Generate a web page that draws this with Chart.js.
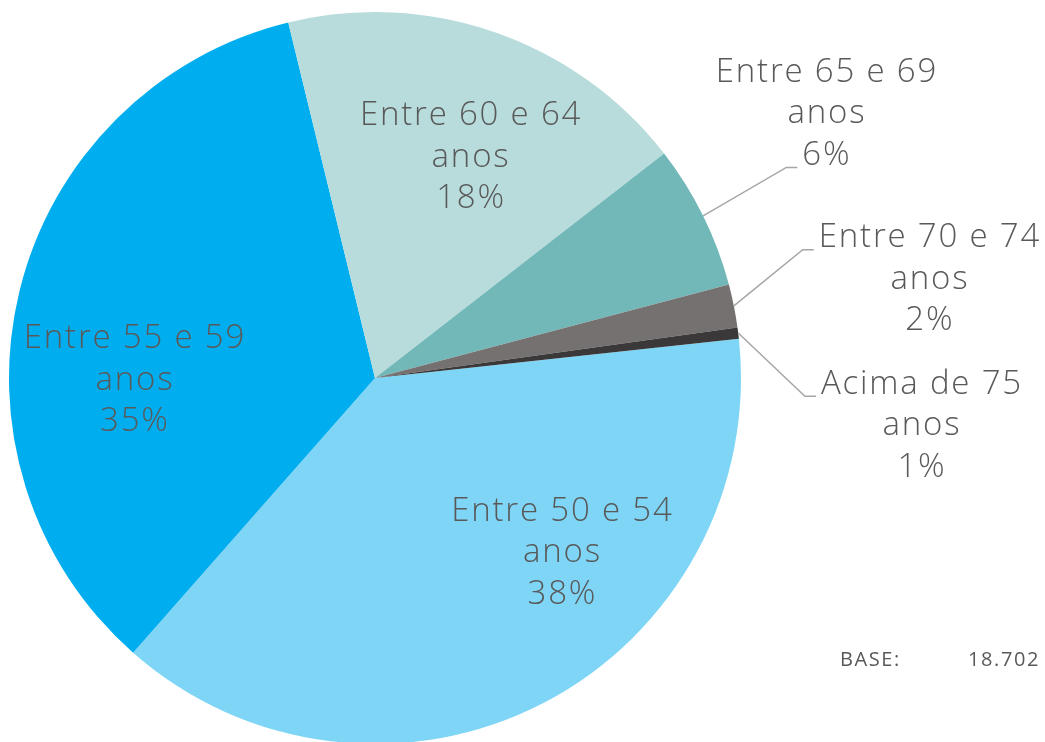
<!DOCTYPE html>
<html>
<head>
<meta charset="utf-8">
<script src="https://cdn.jsdelivr.net/npm/chart.js@4.4.1/dist/chart.umd.min.js"></script>
<style>
  html, body { margin: 0; padding: 0; background: #fff; overflow: hidden; }
  #wrap { position: relative; width: 1045px; height: 746px; }
  #base { position: absolute; left: 840px; top: 645px; font: 20px "Open Sans", sans-serif; letter-spacing: 1.6px; color: #595959; }
  #base span { position: absolute; left: 128px; white-space: nowrap; }
</style>
</head>
<body>
<div id="wrap">
  <canvas id="pie"></canvas>
  <div id="base">BASE:<span>18.702</span></div>
</div>
<script>
// age groups, clockwise from the 3 o'clock position
const categories = [
  ["Entre 50 e 54", "anos"],
  ["Entre 55 e 59", "anos"],
  ["Entre 60 e 64", "anos"],
  ["Entre 65 e 69", "anos"],
  ["Entre 70 e 74", "anos"],
  ["Acima de 75", "anos"]
];
const shares = [38.2, 34.7, 18.3, 6.4, 1.9, 0.5];
const colors = ["#7fd5f6", "#00aeef", "#b8dcdc", "#72b8b8", "#767171", "#3a3838"];

// label placement: canvas angle (deg) and distance as a fraction of the radius
const labelAngle = [43, 179.5, -66.5, -30.3, -10.1, 5.0];
const labelDist = [0.70, 0.656, 0.658, 1.43, 1.54, 1.50];
// which text line a leader line points at (-1 = no leader)
const leaderLine = [-1, -1, -1, 2, 0, 0];

const LINE_H = 41.5;
const FONT = '300 33px "Open Sans", sans-serif';

const labelPlugin = {
  id: "pieLabels",
  afterDraw(chart) {
    const ctx = chart.ctx;
    const meta = chart.getDatasetMeta(0);
    ctx.save();
    ctx.font = FONT;
    ctx.letterSpacing = "1.8px";
    ctx.fillStyle = "#595959";
    ctx.textAlign = "center";
    ctx.textBaseline = "middle";
    meta.data.forEach((arc, i) => {
      const p = arc.getProps(["x", "y", "startAngle", "endAngle", "outerRadius"], true);
      const a = labelAngle[i] * Math.PI / 180;
      const cx = p.x + Math.cos(a) * p.outerRadius * labelDist[i];
      const cy = p.y + Math.sin(a) * p.outerRadius * labelDist[i];
      const lines = [categories[i][0], categories[i][1], Math.round(shares[i]) + "%"];
      const top = cy - LINE_H;
      lines.forEach((t, k) => ctx.fillText(t, cx, top + k * LINE_H));

      if (leaderLine[i] >= 0) {
        const mid = (p.startAngle + p.endAngle) / 2;
        const sx = p.x + Math.cos(mid) * p.outerRadius;
        const sy = p.y + Math.sin(mid) * p.outerRadius;
        const w = ctx.measureText(lines[leaderLine[i]]).width;
        const ex = cx - w / 2 - 5;
        const ey = top + leaderLine[i] * LINE_H + 12;
        ctx.beginPath();
        ctx.strokeStyle = "#a6a6a6";
        ctx.lineWidth = 1.5;
        ctx.moveTo(sx, sy);
        ctx.lineTo(ex - 11, ey);
        ctx.lineTo(ex, ey);
        ctx.stroke();
      }
    });
    ctx.restore();
  }
};

new Chart(document.getElementById("pie"), {
  type: "pie",
  data: {
    labels: categories.map(c => c.join(" ")),
    datasets: [{
      data: shares,
      backgroundColor: colors,
      borderWidth: 0
    }]
  },
  options: {
    responsive: true,
    maintainAspectRatio: false,
    animation: false,
    rotation: 83.85,
    layout: { padding: { left: 9, right: 304, top: 12, bottom: 2 } },
    plugins: {
      legend: { display: false },
      tooltip: { enabled: false }
    }
  },
  plugins: [labelPlugin]
});
</script>
</body>
</html>
